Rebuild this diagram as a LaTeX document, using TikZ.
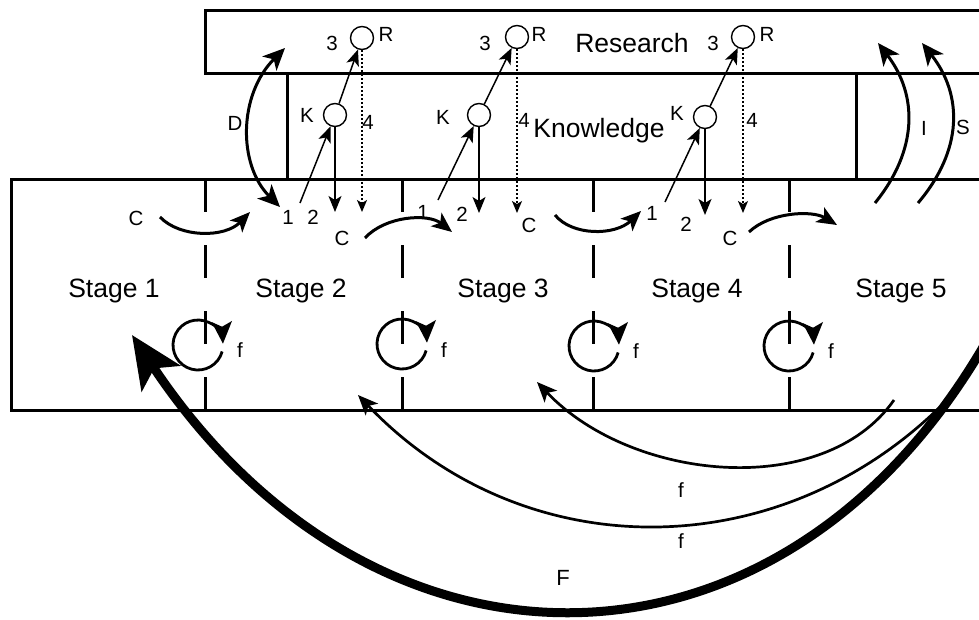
\documentclass[tikz,border=0pt]{standalone}
\usepackage{fontspec}
\setmainfont{Liberation Sans}
\usetikzlibrary{arrows.meta}
\tikzstyle{boxline}=[line width=3pt]
\tikzstyle{divider}=[line width=3pt, dash pattern=on 33pt off 33pt]
\tikzstyle{ocirc}=[circle,draw=black,fill=white,line width=1.4pt,minimum size=23pt,inner sep=0pt]
\tikzstyle{stagefont}=[font=\fontsize{26.5}{30}\selectfont, inner sep=0pt, anchor=base]
\tikzstyle{lbl}=[font=\fontsize{20.5}{24}\selectfont, inner sep=0pt]
\tikzstyle{cflow}=[-{Stealth[length=20pt,width=17pt,inset=5pt]}, line width=3pt]
\tikzstyle{thinarr}=[-{Stealth[length=16pt,width=13pt,inset=4pt]}, line width=1.5pt]
\tikzstyle{dotarr}=[-{Stealth[length=12pt,width=10pt,inset=3pt]}, line width=1.5pt, dash pattern=on 2pt off 2pt]
\tikzstyle{looparr}=[-{Stealth[length=22pt,width=20pt,inset=5pt]}, line width=2.8pt]
\tikzstyle{sidearr}=[-{Stealth[length=22pt,width=20pt,inset=6pt]}, line width=3pt]
\tikzstyle{fback}=[-{Stealth[length=20pt,width=17pt,inset=5pt]}, line width=2.7pt]
\tikzstyle{Fback}=[-{Stealth[length=52pt,width=46pt,inset=12pt]}, line width=9pt]

\begin{document}
\begin{tikzpicture}[x=1pt,y=-1pt]
\useasboundingbox (0,0) rectangle (979,619);
\clip (0,0) rectangle (979,619);
% boxes
\draw[boxline] (995,10) -- (205,10) -- (205,73) -- (995,73);
\draw[boxline] (995,179) -- (11,179) -- (11,410) -- (995,410);
\draw[boxline] (287,73) -- (287,179);
\draw[boxline] (856,73) -- (856,179);
\draw[divider] (205,179) -- (205,410);
\draw[divider] (402,179) -- (402,410);
\draw[divider] (593,179) -- (593,410);
\draw[divider] (789,179) -- (789,410);
\node[stagefont] (res) at (632,52) {Research};
\node[stagefont] (know) at (599,137) {Knowledge};
\node[stagefont] (st1) at (114,297) {Stage 1};
\node[stagefont] (st2) at (301,297) {Stage 2};
\node[stagefont] (st3) at (503,297) {Stage 3};
\node[stagefont] (st4) at (697,297) {Stage 4};
\node[stagefont] (st5) at (901,297) {Stage 5};
% stage 2
\node[ocirc] (k2) at (335,115) {};
\node[ocirc] (r2) at (362,38) {};
\coordinate (s2) at (300,203);
\coordinate (e2) at (335,212);
\coordinate (d2) at (362,212);
\draw[thinarr] (s2) -- (k2);
\draw[thinarr] (k2) -- (r2);
\draw[thinarr] (k2) -- (e2);
\draw[dotarr] (r2) -- (d2);
\node[lbl] (one2) at (288,217) {1};
\node[lbl] (two2) at (313,217) {2};
\node[lbl] (klb2) at (307,115) {K};
\node[lbl] (thr2) at (332,43) {3};
\node[lbl] (rlb2) at (386,34) {R};
\node[lbl] (fou2) at (368,122) {4};
% stage 3
\node[ocirc] (k3) at (479,115) {};
\node[ocirc] (r3) at (517,37) {};
\coordinate (s3) at (438,200);
\coordinate (e3) at (479,213);
\coordinate (d3) at (517,213);
\draw[thinarr] (s3) -- (k3);
\draw[thinarr] (k3) -- (r3);
\draw[thinarr] (k3) -- (e3);
\draw[dotarr] (r3) -- (d3);
\node[lbl] (one3) at (423,212) {1};
\node[lbl] (two3) at (462,214) {2};
\node[lbl] (klb3) at (443,117) {K};
\node[lbl] (thr3) at (485,43) {3};
\node[lbl] (rlb3) at (539,34) {R};
\node[lbl] (fou3) at (524,120) {4};
% stage 4
\node[ocirc] (k4) at (705,117) {};
\node[ocirc] (r4) at (743,37) {};
\coordinate (s4) at (665,202);
\coordinate (e4) at (705,215);
\coordinate (d4) at (743,213);
\draw[thinarr] (s4) -- (k4);
\draw[thinarr] (k4) -- (r4);
\draw[thinarr] (k4) -- (e4);
\draw[dotarr] (r4) -- (d4);
\node[lbl] (one4) at (652,213) {1};
\node[lbl] (two4) at (686,224) {2};
\node[lbl] (klb4) at (677,113) {K};
\node[lbl] (thr4) at (713,43) {3};
\node[lbl] (rlb4) at (767,34) {R};
\node[lbl] (fou4) at (752,120) {4};
% C flows
\coordinate (c1a) at (160,217); \coordinate (c1b) at (250,212);
\coordinate (c2a) at (365,238); \coordinate (c2b) at (452,232);
\coordinate (c3a) at (555,215); \coordinate (c3b) at (641,211);
\coordinate (c4a) at (749,232); \coordinate (c4b) at (837,225);
\draw[cflow] (c1a) .. controls (180,238) and (225,238) .. (c1b);
\draw[cflow] (c2a) .. controls (385,216) and (428,213) .. (c2b);
\draw[cflow] (c3a) .. controls (572,236) and (615,236) .. (c3b);
\draw[cflow] (c4a) .. controls (770,212) and (812,210) .. (c4b);
\node[lbl] (cl1) at (136,218) {C};
\node[lbl] (cl2) at (342,238) {C};
\node[lbl] (cl3) at (529,225) {C};
\node[lbl] (cl4) at (730,238) {C};
% D, I, S
\coordinate (dlo) at (280,207); \coordinate (dhi) at (285,48);
\coordinate (ilo) at (875,203); \coordinate (ihi) at (878,43);
\coordinate (slo) at (918,203); \coordinate (shi) at (922,43);
\draw[sidearr,{Stealth[length=22pt,width=20pt,inset=6pt]}-{Stealth[length=22pt,width=20pt,inset=6pt]}] (dlo) .. controls (238,165) and (238,95) .. (dhi);
\draw[sidearr] (ilo) .. controls (918,150) and (918,95) .. (ihi);
\draw[sidearr] (slo) .. controls (963,150) and (963,95) .. (shi);
\node[lbl] (dlb) at (235,123) {D};
\node[lbl] (ilb) at (924,128) {I};
\node[lbl] (slb) at (963,127) {S};
% loops
\coordinate (lp1) at (198,345);
\coordinate (lp2) at (402,344);
\coordinate (lp3) at (594,346);
\coordinate (lp4) at (789,346);
\draw[looparr] (lp1) ++(15:25) arc[start angle=15, end angle=357, radius=25];
\draw[looparr] (lp2) ++(15:25) arc[start angle=15, end angle=357, radius=25];
\draw[looparr] (lp3) ++(15:25) arc[start angle=15, end angle=357, radius=25];
\draw[looparr] (lp4) ++(15:25) arc[start angle=15, end angle=357, radius=25];
\node[lbl] (lf1) at (240,350) {f};
\node[lbl] (lf2) at (444,350) {f};
\node[lbl] (lf3) at (636,351) {f};
\node[lbl] (lf4) at (831,351) {f};
% feedback
\coordinate (fa1) at (894,400); \coordinate (fb1) at (537,382);
\coordinate (fa2) at (944,403); \coordinate (fb2) at (358,395);
\coordinate (Fa) at (990,335); \coordinate (Fb) at (132,335);
\draw[fback] (fa1) .. controls (824,500) and (632,482) .. (fb1);
\draw[fback] (fa2) .. controls (779,568) and (523,568) .. (fb2);
\draw[Fback] (Fa) .. controls (785,700) and (375,700) .. (Fb);
\node[lbl] (bf1) at (681,490) {f};
\node[lbl] (bf2) at (681,541) {f};
\node[lbl,font=\fontsize{22}{26}\selectfont] (bF) at (563,578) {F};
\end{tikzpicture}
\end{document}
